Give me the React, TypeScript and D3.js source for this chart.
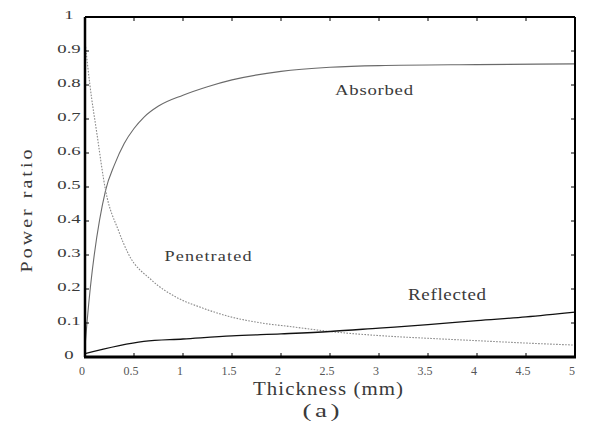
import React from "react";
import * as d3 from "d3";

const xTickValues = [0, 0.5, 1, 1.5, 2, 2.5, 3, 3.5, 4, 4.5, 5];
const xTickLabels = ["0", "0.5", "1", "1.5", "2", "2.5", "3", "3.5", "4", "4.5", "5"];
const yTickValues = [0, 0.1, 0.2, 0.3, 0.4, 0.5, 0.6, 0.7, 0.8, 0.9, 1];
const yTickLabels = ["0", "0.1", "0.2", "0.3", "0.4", "0.5", "0.6", "0.7", "0.8", "0.9", "1"];

const absorbedX = [0, 0.02, 0.21, 0.3, 0.4, 0.5, 0.6, 0.75, 1, 1.25, 1.5, 2, 2.5, 3, 4, 5];
const absorbedY = [0.03, 0.1, 0.49, 0.565, 0.628, 0.672, 0.705, 0.738, 0.77, 0.795, 0.815, 0.84, 0.852, 0.857, 0.86, 0.862];

const penetratedX = [0, 0.05, 0.12, 0.21, 0.34, 0.44, 0.68, 0.95, 1.19, 1.46, 1.8, 2.11, 2.5, 3, 3.5, 4, 4.5, 5];
const penetratedY = [0.93, 0.8, 0.66, 0.49, 0.373, 0.305, 0.226, 0.173, 0.145, 0.12, 0.1, 0.089, 0.075, 0.063, 0.055, 0.048, 0.041, 0.035];

const reflectedX = [0, 0.6, 1, 1.5, 2, 2.5, 3, 3.5, 4, 4.5, 5];
const reflectedY = [0.01, 0.046, 0.053, 0.062, 0.068, 0.075, 0.085, 0.095, 0.107, 0.118, 0.132];

const W = 589;
const H = 430;
const left = 85;
const right = 575;
const top = 17;
const bottom = 357;

const FONT = "'Liberation Serif', 'Times New Roman', Times, serif";

function Label(props: {
  x: number;
  y: number;
  text: string;
  size: number;
  width: number;
  sx: number;
  rotate?: number;
}) {
  const { x, y, text, size, width, sx, rotate = 0 } = props;
  return (
    <text
      transform={`translate(${x},${y}) rotate(${rotate}) scale(${sx},1)`}
      textAnchor="middle"
      fontSize={size}
      textLength={width / sx}
      lengthAdjust="spacing"
      fill="#3a3a3a"
      style={{ fontFamily: FONT }}
    >
      {text}
    </text>
  );
}

export default function App() {
  const x = d3.scaleLinear().domain([0, 5]).range([left, right]);
  const y = d3.scaleLinear().domain([0, 1]).range([bottom, top]);

  const line = d3
    .line<[number, number]>()
    .x((d) => x(d[0]))
    .y((d) => y(d[1]))
    .curve(d3.curveMonotoneX);

  const zip = (xs: number[], ys: number[]) => xs.map((v, i) => [v, ys[i]] as [number, number]);

  const absorbed = line(zip(absorbedX, absorbedY)) || "";
  const penetrated = line(zip(penetratedX, penetratedY)) || "";
  const reflected = line(zip(reflectedX, reflectedY)) || "";

  const tickLen = 4;
  const ts = { fontFamily: FONT };

  return (
    <svg
      width={W}
      height={H}
      style={{ position: "absolute", left: 0, top: 0, background: "#fff", fontFamily: FONT }}
    >
      <rect x={0} y={0} width={W} height={H} fill="#fff" />
      {/* curves */}
      <path d={absorbed} fill="none" stroke="#6a6a6a" strokeWidth={1.1} />
      <path d={penetrated} fill="none" stroke="#8a8a8a" strokeWidth={1.1} strokeDasharray="1.6 1.4" />
      <path d={reflected} fill="none" stroke="#111" strokeWidth={1.3} />

      {/* ticks */}
      {xTickValues.map((v, i) => (
        <g key={"xt" + i}>
          <line x1={x(v)} x2={x(v)} y1={bottom} y2={bottom - tickLen} stroke="#000" strokeWidth={1} />
          <line x1={x(v)} x2={x(v)} y1={top} y2={top + tickLen} stroke="#000" strokeWidth={1} />
          <text
            x={x(v) - 3}
            y={375}
            textAnchor="middle"
            fontSize={12}
            fill="#555"
            style={ts}
          >
            {xTickLabels[i]}
          </text>
        </g>
      ))}
      {yTickValues.map((v, i) => (
        <g key={"yt" + i}>
          <line x1={left} x2={left + tickLen} y1={y(v)} y2={y(v)} stroke="#000" strokeWidth={1} />
          <line x1={right} x2={right - tickLen} y1={y(v)} y2={y(v)} stroke="#000" strokeWidth={1} />
          <text
            transform={`translate(69,${y(v) + 2}) scale(1.5,1)`}
            textAnchor="middle"
            fontSize={12.5}
            fill="#3a3a3a"
            style={ts}
          >
            {yTickLabels[i]}
          </text>
        </g>
      ))}

      {/* frame */}
      <line x1={left} x2={right} y1={top} y2={top} stroke="#000" strokeWidth={2} />
      <line x1={right} x2={right} y1={top} y2={bottom} stroke="#000" strokeWidth={2} />
      <line x1={left} x2={left} y1={top} y2={bottom} stroke="#000" strokeWidth={2.5} />
      <line x1={left - 1} x2={right + 1} y1={bottom} y2={bottom} stroke="#000" strokeWidth={3} />

      {/* series labels */}
      <Label x={374} y={95} text="Absorbed" size={15} width={78} sx={1.25} />
      <Label x={208} y={261} text="Penetrated" size={14} width={87} sx={1.3} />
      <Label x={447} y={300} text="Reflected" size={17} width={78} sx={1.12} />

      {/* axis titles */}
      <Label x={32} y={211} text="Power ratio" size={16} width={123} sx={1.25} rotate={-90} />
      <Label x={328} y={395} text="Thickness (mm)" size={19} width={150} sx={1.1} />
      <Label x={321} y={417} text="(a)" size={18} width={37} sx={1.5} />
    </svg>
  );
}
